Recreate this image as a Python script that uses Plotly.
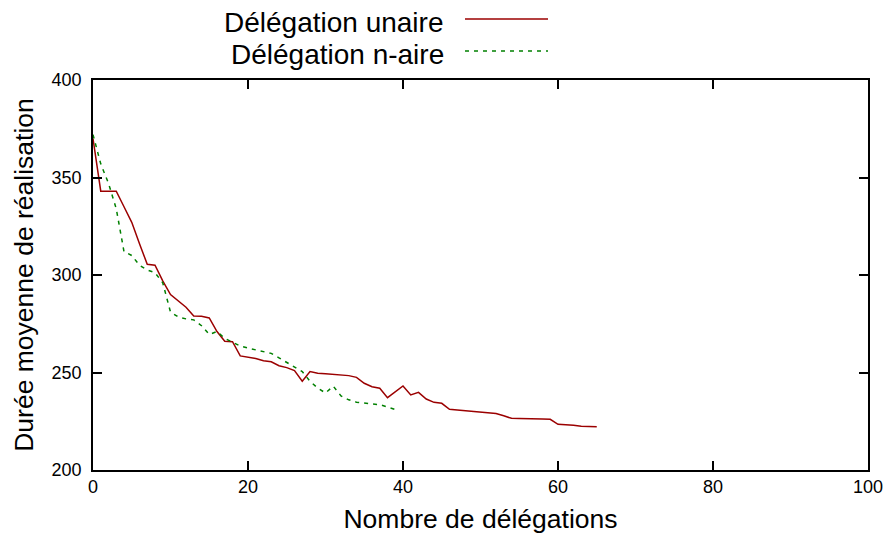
import plotly.graph_objects as go

# Délégation unaire
x_unaire = list(range(0, 66))
y_unaire = [370, 343, 343, 343, 335, 327, 316, 305.5, 305, 297,
            290, 286.5, 283.5, 279, 278.8, 278, 271, 266, 265.8, 258.5,
            258, 257.2, 256, 255.5, 253.5, 252.5, 251, 245.5, 250.5, 249.6,
            249.3, 249.1, 248.9, 248.4, 247.5, 244.5, 242.7, 241.9, 237.1, 240,
            243.1, 238.5, 239.8, 236.4, 234.7, 234.2, 231.1, 230.8, 230.4, 230,
            229.5, 229.1, 229, 227.8, 226.5, 226.4, 226.4, 226.3, 226.2, 226,
            223.4, 223.2, 223, 222.4, 222.2, 222.2]

# Délégation n-aire
x_naire = list(range(0, 40))
y_naire = [372, 357, 347, 334, 312, 310, 305, 302.6, 301.2, 296,
           281, 278.5, 277.5, 277, 274, 269.5, 271, 267.5, 265.5, 263.6,
           262.5, 261.5, 260.5, 259.8, 257.5, 255.3, 253, 250.5, 245.5, 242,
           239.5, 243, 238, 236, 234.8, 234.4, 234.2, 233.5, 232.3, 231]

series_names = ["Délégation unaire", "Délégation n-aire"]
x_ticks = [0, 20, 40, 60, 80, 100]
y_ticks = [200, 250, 300, 350, 400]

RED = "#9b0000"
GREEN = "#008000"
FONT = "Liberation Sans, Arial, Helvetica, sans-serif"

fig = go.Figure()
fig.add_trace(go.Scatter(x=x_unaire, y=y_unaire, mode="lines", name=series_names[0],
                         line=dict(color=RED, width=1.5), showlegend=False))
fig.add_trace(go.Scatter(x=x_naire, y=y_naire, mode="lines", name=series_names[1],
                         line=dict(color=GREEN, width=1.5, dash="4px,5px"), showlegend=False))

# page body has an 8px margin; size the figure so the plot box lands at 93..868 x 80..470
OFF = 8
W, H = 895 - OFF, 540 - OFF
L, R, T, B = 93 - OFF, 27, 80 - OFF, 70
pw, ph = W - L - R, H - T - B

def px2paper(px, py):
    # px, py are page coordinates
    return (px - OFF - L) / pw, (H - B - (py - OFF)) / ph

# legend drawn manually (text to the left of the sample)
legend_rows = [(series_names[0], 22, 19, RED, "solid"), (series_names[1], 54, 51, GREEN, "4px,5px")]
for name, py_text, py_line, col, dash in legend_rows:
    xt, yt = px2paper(445, py_text)
    fig.add_annotation(x=xt, y=yt, xref="paper", yref="paper", text=name, showarrow=False,
                       xanchor="right", yanchor="middle", borderpad=0,
                       font=dict(size=28, color="black", family=FONT))
    x0, y0 = px2paper(465, py_line)
    x1, _ = px2paper(548, py_line)
    fig.add_shape(type="line", xref="paper", yref="paper", x0=x0, x1=x1, y0=y0, y1=y0,
                  line=dict(color=col, width=1.5, dash=dash))

axis_common = dict(showline=True, linecolor="black", linewidth=1.5, mirror="ticks",
                   ticks="inside", ticklen=9, tickwidth=1.5, tickcolor="black",
                   showgrid=False, zeroline=False,
                   tickfont=dict(size=18, color="black", family=FONT))

fig.update_xaxes(range=[0, 100], tickvals=x_ticks, ticktext=[str(v) for v in x_ticks],
                 title=dict(text="Nombre de délégations", font=dict(size=26.5, color="black", family=FONT),
                            standoff=13),
                 **axis_common)
fig.update_yaxes(range=[200, 400], tickvals=y_ticks, ticktext=[str(v) for v in y_ticks],
                 ticklabelstandoff=6,
                 title=dict(text="Durée moyenne de réalisation", font=dict(size=26.5, color="black", family=FONT),
                            standoff=10),
                 **axis_common)

fig.update_layout(width=W, height=H, margin=dict(l=L, r=R, t=T, b=B, autoexpand=False),
                  plot_bgcolor="white", paper_bgcolor="white", font=dict(family=FONT))

fig.write_html("out.html")
